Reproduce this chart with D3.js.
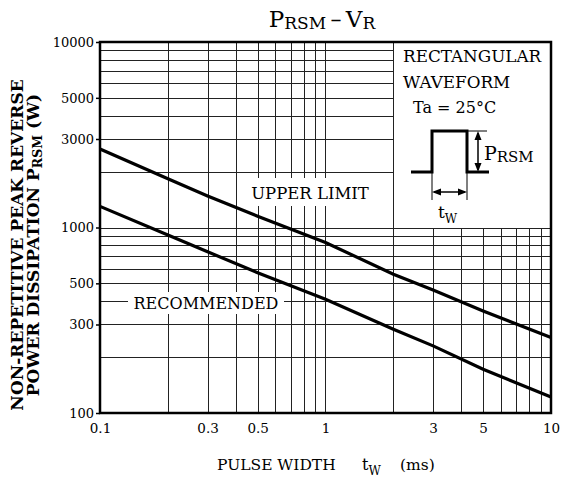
<!DOCTYPE html>
<html><head><meta charset="utf-8">
<script src="https://cdn.jsdelivr.net/npm/d3@7"></script>
<style>body{margin:0;background:#fff}svg{display:block}</style>
</head><body>
<script>
const pulseWidth = [0.1, 0.2, 0.3, 0.5, 1, 2, 3, 5, 10];
const upperLimit = [2650, 1830, 1480, 1150, 830, 560, 460, 355, 255];
const recommended = [1300, 910, 740, 570, 410, 283, 230, 172, 122];
const xTickLabels = [0.1, 0.3, 0.5, 1, 3, 5, 10];
const yTickLabels = [100, 300, 500, 1000, 3000, 5000, 10000];
const xGrid = [0.2,0.3,0.4,0.5,0.6,0.7,0.8,0.9,1,2,3,4,5,6,7,8,9];
const yGrid = [200,300,400,500,600,700,800,900,1000,2000,3000,4000,5000,6000,7000,8000,9000];

const W = 561, H = 481;
const L = 100, R = 551, T = 42, B = 413;
const serif = "'DejaVu Serif', serif";
const svg = d3.select("body").append("svg").attr("width", W).attr("height", H);
const x = d3.scaleLog().domain([0.1, 10]).range([L, R]);
const y = d3.scaleLog().domain([100, 10000]).range([B, T]);

// grid
const g = svg.append("g").attr("stroke", "#222").attr("stroke-width", 1).attr("shape-rendering", "crispEdges");
xGrid.forEach(v => g.append("line").attr("x1", Math.round(x(v))+0.5).attr("x2", Math.round(x(v))+0.5).attr("y1", T).attr("y2", B));
yGrid.forEach(v => g.append("line").attr("y1", Math.round(y(v))+0.5).attr("y2", Math.round(y(v))+0.5).attr("x1", L).attr("x2", R));

// inset box (white) covering grid
const bx = Math.round(x(2))+0.5, by = Math.round(y(1000))+0.5;
svg.append("rect").attr("x", bx).attr("y", T).attr("width", R - bx).attr("height", by - T)
  .attr("fill", "#fff").attr("stroke", "#222").attr("stroke-width", 1).attr("shape-rendering", "crispEdges");

// label backgrounds
svg.append("rect").attr("x", 246).attr("y", 178).attr("width", 128).attr("height", 28).attr("fill", "#fff");
svg.append("rect").attr("x", 128).attr("y", 292).attr("width", 156).attr("height", 22).attr("fill", "#fff");

// lines
const line = d3.line().x(d => x(d[0])).y(d => y(d[1]));
[upperLimit, recommended].forEach(s => {
  svg.append("path").datum(pulseWidth.map((t, i) => [t, s[i]]))
    .attr("d", line).attr("fill", "none").attr("stroke", "#000").attr("stroke-width", 3.2);
});

// frame
svg.append("rect").attr("x", L).attr("y", T).attr("width", R - L).attr("height", B - T)
  .attr("fill", "none").attr("stroke", "#000").attr("stroke-width", 2.5);

// axes
const xAxis = d3.axisBottom(x).tickValues(xTickLabels).tickSize(0).tickPadding(10).tickFormat(d => String(d));
const gx = svg.append("g").attr("transform", `translate(0,${B})`).call(xAxis);
gx.select(".domain").remove();
gx.selectAll("text").attr("font-family", serif).attr("font-size", 13.5).attr("fill", "#000");
const yAxis = d3.axisLeft(y).tickValues(yTickLabels).tickSize(4).tickPadding(2).tickFormat(d => String(d));
const gy = svg.append("g").attr("transform", `translate(${L},0)`).call(yAxis);
gy.select(".domain").remove();
gy.selectAll("line").attr("stroke", "#000").attr("stroke-width", 1.5);
gy.selectAll("text").attr("font-family", serif).attr("font-size", 13).attr("fill", "#000");

function txt(xp, yp, parts, size, anchor, weight) {
  const t = svg.append("text").attr("x", xp).attr("y", yp).attr("font-family", serif)
    .attr("font-size", size).attr("text-anchor", anchor || "start").attr("font-weight", weight || "normal");
  parts.forEach(p => {
    const ts = t.append("tspan").text(p[0]);
    if (p[1]) ts.attr("font-size", p[1]);
    if (p[2]) ts.attr("dy", p[2]);
  });
  return t;
}

// title
txt(322, 27, [["P"], ["RSM", 17, 2], ["\u2009\u2013\u2009", 22, -2], ["V", 23], ["R", 17, 2]], 23, "middle");

// curve labels
txt(310, 199, [["UPPER LIMIT"]], 16.5, "middle");
txt(206, 309, [["RECOMMENDED"]], 16, "middle");

// x title
txt(217, 470, [["PULSE WIDTH"]], 15.5, "start");
txt(362, 470, [["t"], ["W", 12, 5]], 16, "start");
txt(400, 470, [["(ms)"]], 15.5, "start");

// y title
const yt = svg.append("g").attr("transform", "translate(23,245) rotate(-90)");
yt.append("text").attr("text-anchor", "middle").attr("font-family", serif).attr("font-weight", "bold")
  .attr("font-size", 17).text("NON-REPETITIVE PEAK REVERSE");
const yt2 = yt.append("text").attr("y", 16).attr("text-anchor", "middle").attr("font-family", serif).attr("font-weight", "bold").attr("font-size", 17);
yt2.append("tspan").text("POWER DISSIPATION  P");
yt2.append("tspan").attr("font-size", 12.5).attr("dy", 3).text("RSM");
yt2.append("tspan").attr("dy", -3).text("  (W)");

// inset
txt(403, 62, [["RECTANGULAR"]], 16.8, "start");
txt(403, 88, [["WAVEFORM"]], 16.8, "start");
txt(413, 113, [["Ta = 25°C"]], 16, "start");
const ins = svg.append("g").attr("fill", "none").attr("stroke", "#000");
ins.append("path").attr("d", "M411,172 H432 V131 H467 V172 H489").attr("stroke-width", 3);
ins.append("line").attr("x1", 467).attr("x2", 487).attr("y1", 131).attr("y2", 131).attr("stroke-width", 1);
ins.append("line").attr("x1", 478).attr("x2", 478).attr("y1", 133).attr("y2", 170).attr("stroke-width", 1.5);
ins.append("line").attr("x1", 432).attr("x2", 432).attr("y1", 172).attr("y2", 200).attr("stroke-width", 1);
ins.append("line").attr("x1", 467).attr("x2", 467).attr("y1", 172).attr("y2", 200).attr("stroke-width", 1);
ins.append("line").attr("x1", 434).attr("x2", 465).attr("y1", 192).attr("y2", 192).attr("stroke-width", 1.5);
const ah = svg.append("g").attr("fill", "#000");
ah.append("path").attr("d", "M478,131 L474.5,140 L481.5,140 Z");
ah.append("path").attr("d", "M478,172 L474.5,163 L481.5,163 Z");
ah.append("path").attr("d", "M432,192 L441,188.5 L441,195.5 Z");
ah.append("path").attr("d", "M467,192 L458,188.5 L458,195.5 Z");
txt(484, 160, [["P"], ["RSM", 15, 2]], 19, "start");
txt(438, 218, [["t"], ["W", 12, 5]], 17, "start");
</script>
</body></html>
